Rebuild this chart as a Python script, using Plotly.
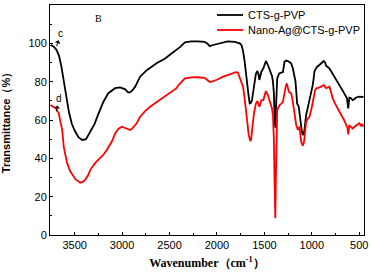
import plotly.graph_objects as go

# ---- data ----
wn_cts = [3755, 3720, 3690, 3665, 3640, 3615, 3590, 3560, 3530, 3500, 3460, 3420, 3380, 3335, 3290,
          3262, 3230, 3198, 3145, 3100, 3073, 3020, 2967, 2935, 2910, 2895, 2862, 2810, 2740, 2633,
          2550, 2496, 2430, 2390, 2338, 2270, 2200, 2130, 2100, 2076, 2050, 2000, 1940, 1886, 1813,
          1760, 1742, 1725, 1708, 1695, 1679, 1665, 1655, 1643, 1631, 1620, 1610, 1590, 1574, 1563,
          1553, 1542, 1532, 1511, 1497, 1484, 1463, 1450, 1435, 1420, 1410, 1400, 1393, 1385, 1378,
          1372, 1365, 1344, 1320, 1305, 1295, 1288, 1270, 1253, 1230, 1218, 1200, 1185, 1172, 1160,
          1155, 1145, 1138, 1128, 1120, 1105, 1095, 1085, 1078, 1060, 1040, 1025, 1005, 990, 980,
          973, 960, 944, 920, 896, 885, 875, 860, 850, 815, 790, 763, 735, 710, 685,
          658, 630, 622, 616, 610, 605, 590, 570, 550, 535, 515, 500, 470, 455]
t_cts = [99.3, 98.2, 96.5, 93.5, 88, 81, 73, 64, 58, 54.5, 51, 49.6, 50, 53.7, 58,
         61.6, 65.5, 69.4, 74, 75.8, 76.6, 77, 76, 74.3, 74.6, 75.3, 77.4, 82.6, 86, 89.7,
         92, 94, 96.5, 98, 100.5, 101, 101, 100.8, 99.8, 98.5, 99, 99.5, 100.5, 101, 100.8,
         100, 99.1, 96, 90.4, 84, 78.3, 72, 68.7, 69, 70.4, 74, 78.3, 84, 85.6, 84,
         80.9, 83, 85.2, 87, 89, 90.8, 88.7, 87, 85.2, 83, 80, 74, 62, 56, 66,
         76, 81.7, 84.3, 84.8, 85, 88, 90.4, 91, 90.8, 90, 89.6, 87, 84, 80, 72,
         68.7, 67.5, 67, 63, 59.1, 54, 52.2, 53, 54.8, 62.6, 67, 70.4, 74, 78.3, 82,
         85.2, 86.5, 87.8, 88.7, 89.6, 90, 90.8, 90, 88.3, 87, 85, 82.6, 80.5, 78.3, 76,
         73.9, 71.3, 69, 66.1, 69, 71.7, 71.5, 70.4, 71, 71.7, 72, 72.2, 72, 72.2]

wn_ag = [3755, 3720, 3700, 3680, 3668, 3650, 3632, 3615, 3580, 3550, 3527, 3490, 3440, 3410, 3388,
         3360, 3335, 3283, 3230, 3195, 3160, 3107, 3073, 3038, 3002, 2970, 2950, 2915, 2895, 2880,
         2850, 2810, 2760, 2705, 2650, 2600, 2550, 2495, 2430, 2400, 2355, 2338, 2270, 2200, 2130,
         2100, 2076, 2040, 2000, 1940, 1886, 1840, 1800, 1780, 1760, 1742, 1725, 1708, 1690, 1678,
         1666, 1648, 1640, 1631, 1620, 1610, 1590, 1574, 1563, 1553, 1542, 1532, 1511, 1497, 1484,
         1463, 1450, 1435, 1420, 1410, 1400, 1392, 1385, 1379, 1372, 1365, 1340, 1320, 1305, 1295,
         1288, 1275, 1264, 1252, 1242, 1230, 1218, 1205, 1190, 1178, 1165, 1155, 1147, 1138, 1130,
         1120, 1113, 1095, 1085, 1078, 1068, 1060, 1045, 1025, 1005, 990, 975, 965, 950, 937,
         920, 903, 890, 875, 862, 850, 830, 815, 800, 780, 755, 728, 700, 675, 655,
         640, 625, 616, 608, 605, 590, 570, 550, 535, 515, 500, 480, 470, 455]
t_ag = [67.8, 67, 66.2, 64.5, 63.6, 59, 55, 46, 37.6, 33.5, 31.5, 29, 27.3, 27.8, 28.9,
        31, 34, 37.6, 40.2, 42, 44.5, 48.9, 53, 55.5, 56.5, 56, 55.7, 54.8, 55.5, 56.2,
        58, 61.7, 64.5, 66.9, 68.8, 70.4, 72, 73.9, 76.5, 78.5, 80.9, 81.7, 82.2, 82.3, 82,
        81, 79.8, 80.3, 81, 82.5, 83.5, 84.5, 85, 84.8, 82, 80.5, 77.4, 71, 64.3, 58,
        52.2, 49, 50, 53.9, 59, 63.5, 68.5, 69.9, 68.5, 66.9, 68.5, 70.4, 70.4, 72.5, 75.1,
        73, 71, 68.7, 66, 62.6, 50, 25, 8.7, 30, 55, 65.2, 67.8, 68.5, 69.5, 73,
        75.7, 77.5, 79.1, 77, 74.8, 74.3, 73.9, 71, 66.9, 62, 57.4, 55.5, 54.8, 55.8, 56.5,
        52, 48.7, 46.6, 48, 50.4, 55, 59.1, 60.5, 61.7, 65.5, 69.5, 73, 75.7, 76.5, 76.9,
        77, 77.4, 77.8, 78.3, 77.5, 76.6, 77, 77.4, 75, 71.3, 68.5, 66.1, 64, 61.7, 59.5,
        57.7, 56, 52.5, 55, 57.4, 56.5, 55.6, 56.5, 57, 57.5, 58.3, 57, 58, 56.5]

series_names = ["CTS-g-PVP", "Nano-Ag@CTS-g-PVP"]
series_colors = ["#000000", "#ff0000"]
x_ticks = [3500, 3000, 2500, 2000, 1500, 1000, 500]
y_ticks = [0, 20, 40, 60, 80, 100, 120]

fig = go.Figure()
fig.add_trace(go.Scatter(x=wn_cts, y=t_cts, mode="lines", name=series_names[0],
                         line=dict(color=series_colors[0], width=1.8), showlegend=False))
fig.add_trace(go.Scatter(x=wn_ag, y=t_ag, mode="lines", name=series_names[1],
                         line=dict(color=series_colors[1], width=1.8), showlegend=False))

L, R, T, B = 50, 6, 5, 38
W, H = 370, 273
pw, ph = W - L - R, H - T - B

def px2paper(px, py):
    return (px - L) / pw, (H - B - py) / ph

# manual legend
for i, (nm, col) in enumerate(zip(series_names, series_colors)):
    py = 15 + 15 * i
    x0, y0 = px2paper(217, py)
    x1, _ = px2paper(243, py)
    fig.add_shape(type="line", xref="paper", yref="paper", x0=x0, x1=x1, y0=y0, y1=y0,
                  line=dict(color=col, width=1.8))
    tx, _ = px2paper(246, py)
    fig.add_annotation(xref="paper", yref="paper", x=tx, y=y0, text=nm, showarrow=False,
                       xanchor="left", yanchor="middle",
                       font=dict(family="Liberation Sans, Arial", size=11, color="black"))

# panel label and curve labels (with small arrows pointing to the labels)
fig.add_annotation(x=3245, y=113, text="B", showarrow=False,
                   font=dict(family="Liberation Serif, Times New Roman", size=10, color="black"))
fig.add_annotation(x=3690, y=98.5, ax=4, ay=-13, text="c",
                   showarrow=True, arrowside="start", arrowhead=2, arrowsize=0.8,
                   arrowwidth=1, arrowcolor="black",
                   font=dict(family="Liberation Sans, Arial", size=10, color="black"))
fig.add_annotation(x=3690, y=64.5, ax=2, ay=-13, text="d",
                   showarrow=True, arrowside="start", arrowhead=2, arrowsize=0.8,
                   arrowwidth=1, arrowcolor="black",
                   font=dict(family="Liberation Sans, Arial", size=10, color="black"))

fig.update_layout(
    width=W, height=H,
    margin=dict(l=L, r=R, t=T, b=B),
    paper_bgcolor="white", plot_bgcolor="white",
    font=dict(family="Liberation Sans, Arial", size=11, color="black"),
    xaxis=dict(range=[3760, 450], tickvals=x_ticks, ticks="inside", ticklen=3,
               tickcolor="black", showline=True, linecolor="black", linewidth=1, mirror=True,
               showgrid=False, zeroline=False, automargin=False,
               minor=dict(ticks="inside", ticklen=2, dtick=250, tick0=500, tickcolor="black"),
               title=dict(text="<b>Wavenumber（cm<sup>-1</sup>）</b>", standoff=8,
                          font=dict(family="Liberation Serif, Times New Roman", size=12))),
    yaxis=dict(range=[0, 120], tickvals=y_ticks, ticks="inside", ticklen=3,
               tickcolor="black", showline=True, linecolor="black", linewidth=1, mirror=True,
               showgrid=False, zeroline=False, automargin=False,
               minor=dict(ticks="inside", ticklen=2, dtick=10, tickcolor="black"),
               title=dict(text="<b>Transmittance（%）</b>", standoff=16,
                          font=dict(family="Liberation Sans, Arial", size=11))),
)

fig.write_html("out.html", config={"displayModeBar": False},
               post_script="document.body.style.margin='0';document.body.style.padding='0';")
